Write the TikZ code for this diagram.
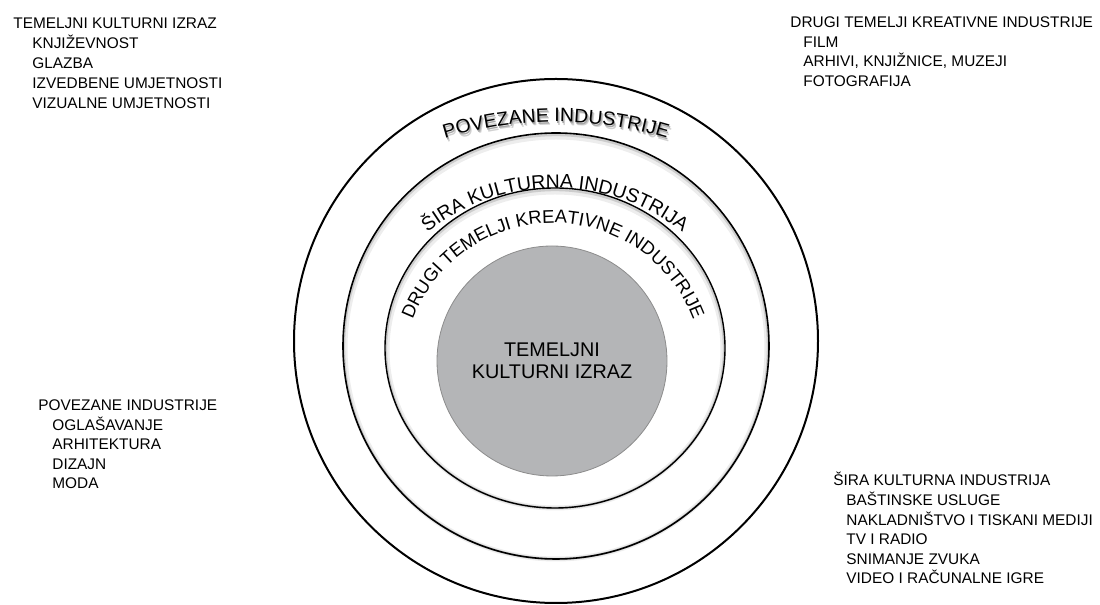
\documentclass[tikz,border=0pt]{standalone}
\usepackage{fontspec}
\setmainfont{Liberation Sans}
\usetikzlibrary{calc,decorations.text}
\definecolor{coregray}{RGB}{180,181,183}
\def\ringlabel[#1](#2)(#3:#4:#5)#6{\path[decorate,decoration={text along path,text align=center,#1,text={#6}}] ($(#2)+({#5*cos(#3)},{#5*sin(#3)})$) arc (#3:#4:#5);}
\newcommand\ringfont{\fontsize{9.7}{11}\selectfont}
\newcommand\drugifont{\fontsize{9.2}{11}\selectfont}
\newcommand\corefont{\fontsize{9.9}{11}\selectfont}
\newcommand\listfont{\fontsize{7.7}{9.8}\selectfont}
\tikzset{listtext/.style={anchor=base west, inner sep=0pt, font=\listfont}}

\begin{document}
\begin{tikzpicture}[x=0.5pt, y=0.5pt]
			%%%%% START %%%%%
			\useasboundingbox (0,0) rectangle (1100,605);
			
			\draw[line width=1pt] (556,264) circle (262);
			
			\draw[line width=2.5pt, black!10, opacity=0.7] (556,257) circle (211);
			\draw[line width=1.2pt, black!25, opacity=0.7] (556,258) circle (212);
			\draw[line width=0.8pt] (556,259) circle (213);
			
			\draw[line width=2.5pt, black!10, opacity=0.7] (555,255) ellipse (168 and 158);
			\draw[line width=1.2pt, black!25, opacity=0.7] (555,256) ellipse (169 and 159);
			\draw[line width=0.7pt] (555,257) ellipse (170 and 160);
			
			\draw[fill=coregray, draw=black!45, line width=0.4pt] (552,244) circle (115);
			
			\ringlabel[text color=black!18](558,99.5)(120:60:380){|\ringfont|POVEZANE INDUSTRIJE}
			\ringlabel[text color=black!35](557,101)(120:60:380){|\ringfont|POVEZANE INDUSTRIJE}
			\ringlabel[text color=black](556,103)(120:60:380){|\ringfont|POVEZANE INDUSTRIJE}
			\ringlabel[text color=black](555,211)(150:30:206){|\ringfont|ŠIRA KULTURNA INDUSTRIJA}
			\ringlabel[text color=black](553,232)(200:-20:150){|\drugifont|DRUGI TEMELJI KREATIVNE INDUSTRIJE}
			
			\node[align=center, font=\corefont, inner sep=0pt] (core) at (552,244) {TEMELJNI\\KULTURNI IZRAZ};
			
			\node[listtext] (izraz) at (13,576.7) {TEMELJNI KULTURNI IZRAZ};
			\foreach \lbl [count=\i] in {KNJIŽEVNOST, GLAZBA, IZVEDBENE UMJETNOSTI, VIZUALNE UMJETNOSTI}
				\node[listtext] (izraz-\i) at (32,576.7-20*\i) {\lbl};
			
			\node[listtext] (drugi) at (790,577) {DRUGI TEMELJI KREATIVNE INDUSTRIJE};
			\foreach \lbl [count=\i] in {FILM, {ARHIVI, KNJIŽNICE, MUZEJI}, FOTOGRAFIJA}
				\node[listtext] (drugi-\i) at (803,577-19.4*\i) {\lbl};
			
			\node[listtext] (povezane) at (38,194) {POVEZANE INDUSTRIJE};
			\foreach \lbl [count=\i] in {OGLAŠAVANJE, ARHITEKTURA, DIZAJN, MODA}
				\node[listtext] (povezane-\i) at (52,194-19.5*\i) {\lbl};
			
			\node[listtext] (sira) at (833,119) {ŠIRA KULTURNA INDUSTRIJA};
			\foreach \lbl [count=\i] in {BAŠTINSKE USLUGE, NAKLADNIŠTVO I TISKANI MEDIJI, TV I RADIO, SNIMANJE ZVUKA, VIDEO I RAČUNALNE IGRE}
				\node[listtext] (sira-\i) at (846,119-19.6*\i) {\lbl};
			
			%%%%% END %%%%%
\end{tikzpicture}
\end{document}
